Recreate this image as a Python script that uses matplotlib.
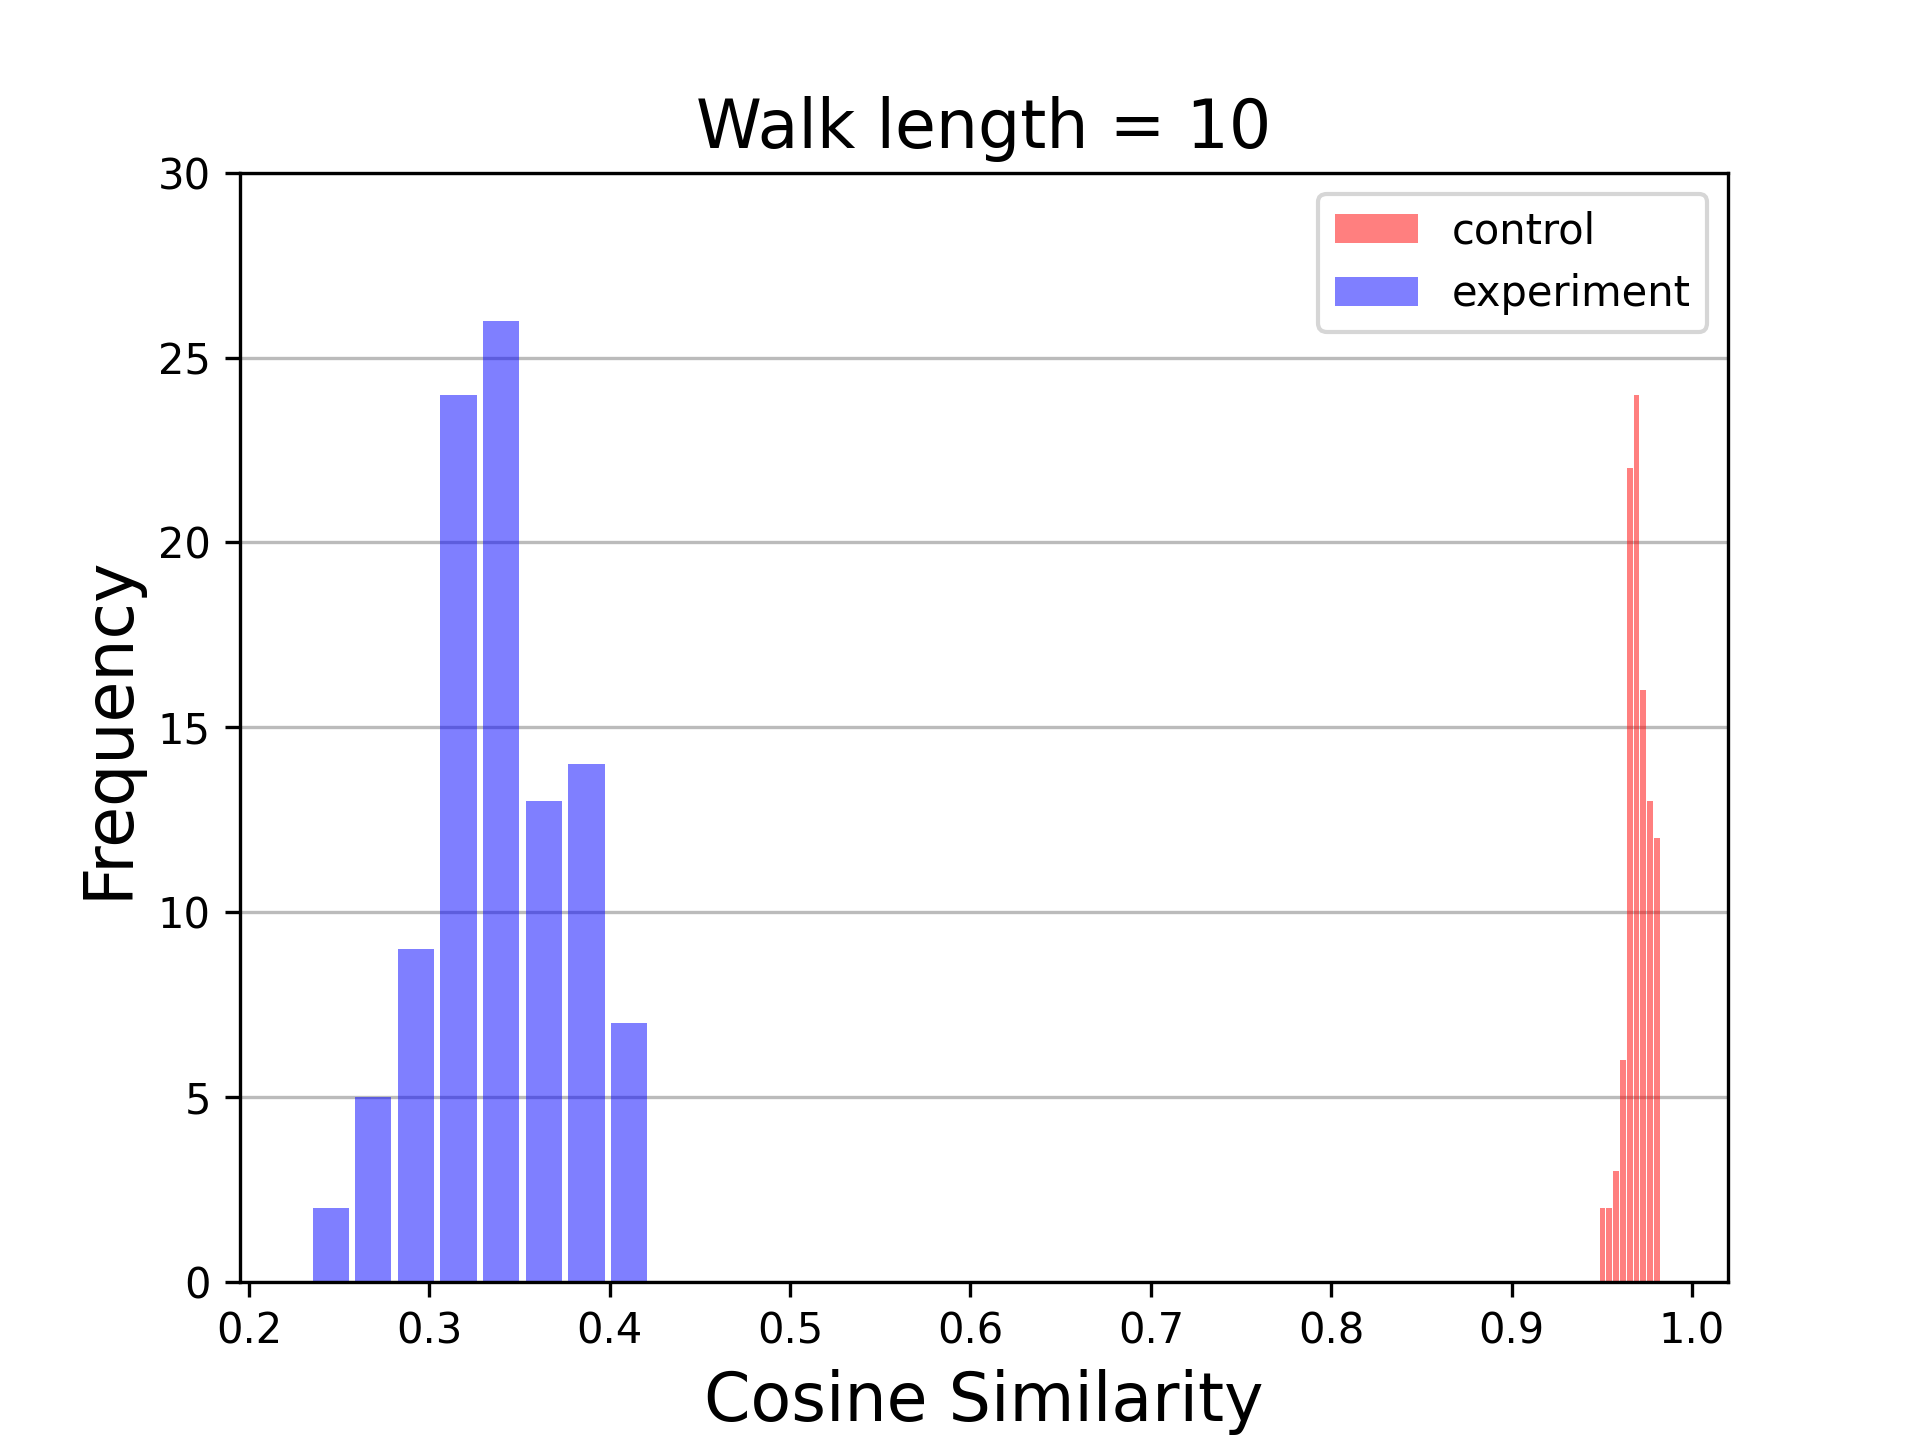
import numpy as np
import matplotlib
matplotlib.use('Agg')
import matplotlib.pyplot as plt

# experiment histogram (bin edges and counts)
exp_edges = np.linspace(0.2335, 0.4225, 9)
exp_counts = [2, 5, 9, 24, 26, 13, 14, 7]

# control histogram
ctl_edges = np.linspace(0.9485, 0.9825, 10)
ctl_counts = [2, 2, 3, 6, 22, 24, 16, 13, 12]

fig, ax = plt.subplots(figsize=(6.4, 4.8), dpi=300)
fig.subplots_adjust(left=0.125, right=0.9, top=0.88, bottom=0.11)

ctl_centers = (ctl_edges[:-1] + ctl_edges[1:]) / 2
exp_centers = (exp_edges[:-1] + exp_edges[1:]) / 2
ax.hist(ctl_centers, bins=ctl_edges, weights=ctl_counts, color='red',
        alpha=0.5, rwidth=0.85, label='control')
ax.hist(exp_centers, bins=exp_edges, weights=exp_counts, color='blue',
        alpha=0.5, rwidth=0.85, label='experiment')

ax.set_xlim(0.195, 1.02)
ax.set_ylim(0, 30)
ax.set_xticks(np.arange(0.2, 1.01, 0.1))
ax.grid(axis='y', color='#bbbbbb', linewidth=0.8)
ax.set_axisbelow(True)
ax.set_title('Walk length = 10', fontsize=16)
ax.set_xlabel('Cosine Similarity', fontsize=16)
ax.set_ylabel('Frequency', fontsize=16)
ax.legend(loc='upper right', fontsize=10)

fig.savefig('out.png', dpi=300)
